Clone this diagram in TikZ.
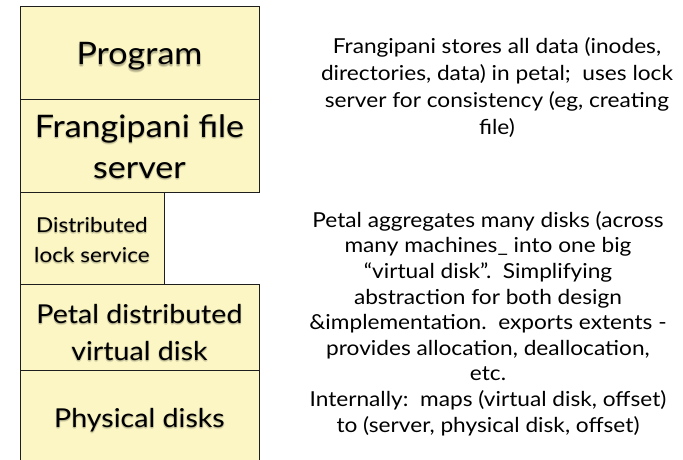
\documentclass[tikz,border=0pt]{standalone}
\usepackage{fontspec}
\setmainfont{Lato}[FakeStretch=1.1]
\usetikzlibrary{calc}
\definecolor{boxfill}{RGB}{251,246,196}
\definecolor{boxline}{RGB}{30,30,30}
% a layer name with a soft shadow underneath
\newcommand{\layername}[4]{%
  \foreach \dx/\dy in {-0.9/1.2,0.9/1.2,0/0.4,0/2.2}
    \node[#2, text=black, opacity=0.10] at ($(#3)+(\dx,\dy)$) {#4};
  \node[#2] (#1) at (#3) {#4};}
\begin{document}
\begin{tikzpicture}[x=1pt,y=-1pt,
  layer/.style={draw=boxline, line width=1.3pt, fill=boxfill,
    anchor=north west, inner sep=0pt},
  biglabel/.style={anchor=base, align=center, inner sep=0pt,
    font=\fontsize{31}{41}\selectfont},
  midlabel/.style={anchor=base, align=center, inner sep=0pt,
    font=\fontsize{26}{37}\selectfont},
  smalllabel/.style={anchor=base, align=center, inner sep=0pt,
    font=\fontsize{20.5}{30}\selectfont},
  note/.style={anchor=base, align=center, inner sep=0pt}]
\useasboundingbox (0,0) rectangle (683,460);
\clip (0,0) rectangle (683,460);

% the layered stack
\node[layer, minimum width=239pt, minimum height=93pt] (program) at (20,6) {};
\node[layer, minimum width=239pt, minimum height=93pt] (fileserver) at (20,99) {};
\node[layer, minimum width=144pt, minimum height=92pt] (lock) at (20,192) {};
\node[layer, minimum width=239pt, minimum height=86pt] (petal) at (20,284) {};
\node[layer, minimum width=239pt, minimum height=110pt] (disks) at (20,370) {};

% layer names (anchored on the baseline of their last line)
\layername{programtext}{biglabel}{139.5,65}{Program}
\layername{fileservertext}{biglabel}{139.5,178}{Frangipani file\\server}
\layername{locktext}{smalllabel}{92,262}{Distributed\\lock service}
\layername{petaltext}{midlabel}{139.5,360}{Petal distributed\\virtual disk}
\layername{diskstext}{midlabel}{139.5,427}{Physical disks}

% explanations
\node[note, font=\fontsize{20.6}{27}\selectfont] (frangipaninote) at (497,134)
  {Frangipani stores all data (inodes,\\
   directories, data) in petal;\ \ uses lock\\
   server for consistency (eg, creating\\
   file)};
\node[note, font=\fontsize{20.6}{25.6}\selectfont] (petalnote) at (488,432)
  {Petal aggregates many disks (across\\
   many machines\_ into one big\\
   “virtual disk”.\ \ Simplifying\\
   abstraction for both design\\
   \&implementation.\ \ exports extents -\\
   provides allocation, deallocation,\\
   etc.\\
   Internally:\ \ maps (virtual disk, offset)\\
   to (server, physical disk, offset)};
\end{tikzpicture}
\end{document}
